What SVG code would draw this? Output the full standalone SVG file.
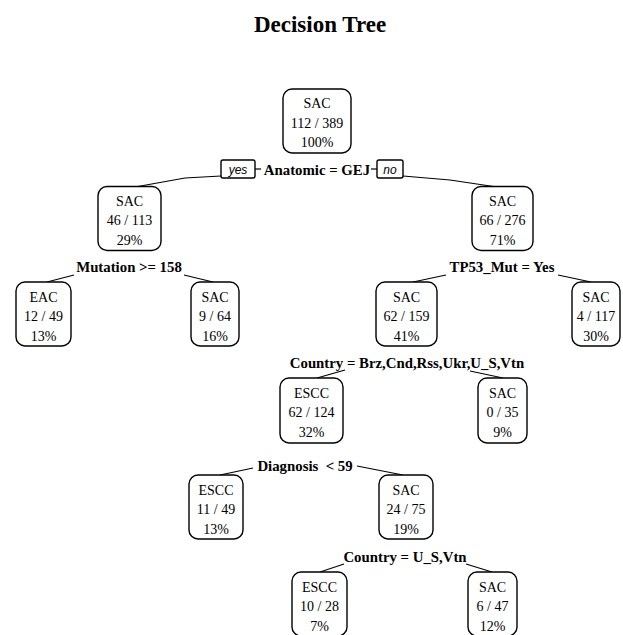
<svg xmlns="http://www.w3.org/2000/svg" width="623" height="635" viewBox="0 0 623 635">
<style>
text{font-family:"Liberation Serif","Times New Roman",serif;fill:#000}
.title{font-size:23px;font-weight:bold;text-anchor:middle}
.box{fill:#fff;stroke:#000;stroke-width:1.4}
.nt{font-size:14px;text-anchor:middle}
.split{font-size:14.8px;font-weight:bold;text-anchor:middle;white-space:pre}
.yn{font-family:"Liberation Sans",Arial,sans-serif;font-style:italic;font-size:12px;text-anchor:middle}
.edge{fill:none;stroke:#000;stroke-width:1.2}
</style>
<text class="title" x="320" y="32">Decision Tree</text>

<g id="connectors">
<polyline class="edge" points="135,187 185,178 221,176"/>
<line class="edge" x1="255" y1="169" x2="261" y2="169"/>
<line class="edge" x1="371" y1="169" x2="377" y2="169"/>
<polyline class="edge" points="403,176 450,180 497,187"/>
<line class="edge" x1="47" y1="282" x2="74" y2="275"/>
<line class="edge" x1="184" y1="275" x2="213" y2="282"/>
<line class="edge" x1="413" y1="282" x2="446" y2="275"/>
<line class="edge" x1="558" y1="275" x2="591" y2="282"/>
<line class="edge" x1="317" y1="378" x2="345" y2="370"/>
<line class="edge" x1="470" y1="371" x2="503" y2="378"/>
<line class="edge" x1="220" y1="475" x2="253" y2="468"/>
<line class="edge" x1="357" y1="466" x2="403" y2="475"/>
<line class="edge" x1="320" y1="572" x2="344" y2="564"/>
<line class="edge" x1="466" y1="564" x2="492" y2="572"/>
</g>

<g id="split-root">
<rect class="box" x="221" y="160" width="34" height="18" rx="2"/>
<text class="yn" x="238" y="174">yes</text>
<text class="split" x="317" y="175">Anatomic = GEJ</text>
<rect class="box" x="377" y="160" width="26" height="18" rx="2"/>
<text class="yn" x="390" y="174">no</text>
</g>
<g id="split-2"><text class="split" x="129" y="272">Mutation &gt;= 158</text></g>
<g id="split-3"><text class="split" x="502" y="272">TP53_Mut = Yes</text></g>
<g id="split-6"><text class="split" x="407" y="368">Country = Brz,Cnd,Rss,Ukr,U_S,Vtn</text></g>
<g id="split-12"><text class="split" x="305" y="471">Diagnosis  &lt; 59</text></g>
<g id="split-25"><text class="split" x="405" y="562">Country = U_S,Vtn</text></g>

<g id="node1">
<rect class="box" x="283" y="89" width="68" height="64" rx="9"/>
<text class="nt" x="317" y="108">SAC</text><text class="nt" x="317" y="128">112 / 389</text><text class="nt" x="317" y="147">100%</text>
</g>
<g id="node2">
<rect class="box" x="98" y="186.5" width="63" height="64" rx="9"/>
<text class="nt" x="129.5" y="206">SAC</text><text class="nt" x="129.5" y="225">46 / 113</text><text class="nt" x="129.5" y="245">29%</text>
</g>
<g id="node3">
<rect class="box" x="472" y="186.5" width="61" height="64" rx="9"/>
<text class="nt" x="502.5" y="206">SAC</text><text class="nt" x="502.5" y="225">66 / 276</text><text class="nt" x="502.5" y="245">71%</text>
</g>
<g id="node4">
<rect class="box" x="16" y="282" width="55" height="64" rx="9"/>
<text class="nt" x="43.5" y="302">EAC</text><text class="nt" x="43.5" y="321">12 / 49</text><text class="nt" x="43.5" y="341">13%</text>
</g>
<g id="node5">
<rect class="box" x="191" y="282" width="48" height="64" rx="9"/>
<text class="nt" x="215" y="302">SAC</text><text class="nt" x="215" y="321">9 / 64</text><text class="nt" x="215" y="341">16%</text>
</g>
<g id="node6">
<rect class="box" x="376" y="282" width="61" height="64" rx="9"/>
<text class="nt" x="406.5" y="302">SAC</text><text class="nt" x="406.5" y="321">62 / 159</text><text class="nt" x="406.5" y="341">41%</text>
</g>
<g id="node7">
<rect class="box" x="572" y="282" width="48" height="64" rx="9"/>
<text class="nt" x="596" y="302">SAC</text><text class="nt" x="596" y="321">4 / 117</text><text class="nt" x="596" y="341">30%</text>
</g>
<g id="node12">
<rect class="box" x="280" y="378" width="63" height="65" rx="9"/>
<text class="nt" x="311.5" y="398">ESCC</text><text class="nt" x="311.5" y="417">62 / 124</text><text class="nt" x="311.5" y="437">32%</text>
</g>
<g id="node13">
<rect class="box" x="478" y="378" width="49" height="65" rx="9"/>
<text class="nt" x="502.5" y="398">SAC</text><text class="nt" x="502.5" y="417">0 / 35</text><text class="nt" x="502.5" y="437">9%</text>
</g>
<g id="node24">
<rect class="box" x="189" y="475" width="54" height="64" rx="9"/>
<text class="nt" x="216" y="495">ESCC</text><text class="nt" x="216" y="514">11 / 49</text><text class="nt" x="216" y="534">13%</text>
</g>
<g id="node25">
<rect class="box" x="379" y="475" width="54" height="64" rx="9"/>
<text class="nt" x="406" y="495">SAC</text><text class="nt" x="406" y="514">24 / 75</text><text class="nt" x="406" y="534">19%</text>
</g>
<g id="node50">
<rect class="box" x="292" y="572" width="55" height="64" rx="9"/>
<text class="nt" x="319.5" y="592">ESCC</text><text class="nt" x="319.5" y="611">10 / 28</text><text class="nt" x="319.5" y="631">7%</text>
</g>
<g id="node51">
<rect class="box" x="468" y="572" width="49" height="64" rx="9"/>
<text class="nt" x="492.5" y="592">SAC</text><text class="nt" x="492.5" y="611">6 / 47</text><text class="nt" x="492.5" y="631">12%</text>
</g>
</svg>
